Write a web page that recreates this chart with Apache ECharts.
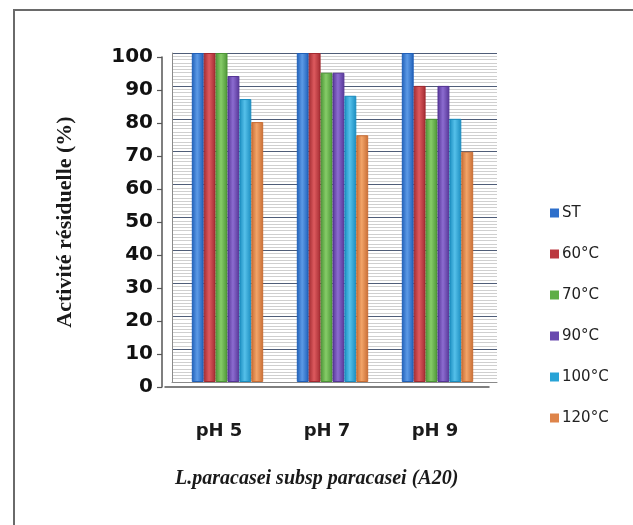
<!DOCTYPE html>
<html>
<head>
<meta charset="utf-8">
<script src="https://cdn.jsdelivr.net/npm/echarts@6/dist/echarts.min.js"></script>
<style>
  html, body { margin: 0; padding: 0; background: #ffffff; }
  #chart { width: 633px; height: 525px; }
</style>
</head>
<body>
<div id="chart"></div>
<script>
// pH conditions on the category axis
const categories = ['pH 5', 'pH 7', 'pH 9'];

// Heat treatments (legend entries)
const seriesNames = ['ST', '60°C', '70°C', '90°C', '100°C', '120°C'];

// Residual activity (%) per treatment, one value per pH
const valuesST   = [100, 100, 100];
const values60   = [100, 100, 90];
const values70   = [100, 94, 80];
const values90   = [93, 94, 90];
const values100  = [86, 87, 80];
const values120  = [79, 75, 70];

// Y-axis tick range
const yMin = 0;
const yMax = 100;
const yStep = 10;

const seriesValues = [valuesST, values60, values70, values90, values100, values120];

// Bar colours: [dark edge, light centre, legend swatch]
const palette = [
  ['#1f5fb8', '#5c9ae6', '#2d6fcb'],
  ['#a12a31', '#dd5a5e', '#bb3940'],
  ['#4c9436', '#86cc68', '#5eae46'],
  ['#553596', '#8c6cd0', '#6848ae'],
  ['#1a8cbf', '#55c0ea', '#28a3d6'],
  ['#c86d34', '#f2a468', '#de844a']
];

function cylinder(c) {
  return {
    type: 'linear', x: 0, y: 0, x2: 1, y2: 0,
    colorStops: [
      { offset: 0, color: c[0] },
      { offset: 0.45, color: c[1] },
      { offset: 1, color: c[0] }
    ]
  };
}

const chart = echarts.init(document.getElementById('chart'), null, { renderer: 'canvas' });

const series = seriesNames.map((name, i) => ({
  name: name,
  type: 'bar',
  xAxisIndex: 0,
  yAxisIndex: 0,
  barGap: '0%',
  barCategoryGap: '32%',
  itemStyle: {
    color: cylinder(palette[i]),
    borderColor: palette[i][0],
    borderWidth: 1
  },
  emphasis: { disabled: true },
  data: seriesValues[i]
}));

// flat swatches for the legend
const legendData = seriesNames.map((name, i) => ({
  name: name,
  itemStyle: { color: palette[i][2], borderWidth: 0 }
}));

const option = {
  backgroundColor: '#ffffff',
  animation: false,
  color: palette.map(c => c[2]),
  grid: [
    // bars
    { left: 175, width: 315, top: 53, bottom: 143 },
    // front axes (labels)
    { left: 165, width: 324, top: 57, bottom: 138 },
    // back wall
    { left: 172, width: 325, top: 53, bottom: 143 }
  ],
  xAxis: [
    {
      gridIndex: 0, type: 'category', data: categories,
      axisLine: { show: false }, axisTick: { show: false }, axisLabel: { show: false }
    },
    {
      gridIndex: 1, type: 'category', data: categories,
      axisLine: { show: true, lineStyle: { color: '#555', width: 1.5 } },
      axisTick: { show: false },
      axisLabel: {
        margin: 35,
        color: '#1a1a1a',
        fontFamily: 'DejaVu Sans',
        fontWeight: 'bold',
        fontSize: 18
      }
    },
    {
      gridIndex: 2, type: 'category', data: categories,
      axisLine: { show: true, lineStyle: { color: '#8a8a8a', width: 1 } },
      axisTick: { show: false }, axisLabel: { show: false }
    }
  ],
  yAxis: [
    {
      gridIndex: 0, type: 'value', min: yMin, max: yMax, interval: yStep,
      axisLine: { show: false }, axisTick: { show: false }, axisLabel: { show: false },
      splitLine: { show: false }
    },
    {
      gridIndex: 1, type: 'value', min: yMin, max: yMax, interval: yStep,
      offset: 3,
      axisLine: { show: true, lineStyle: { color: '#555', width: 1.5 } },
      axisTick: { show: true, length: 5, lineStyle: { color: '#555', width: 1.2 } },
      axisLabel: {
        margin: 9,
        color: '#111',
        fontFamily: 'DejaVu Sans',
        fontWeight: 'bold',
        fontSize: 20
      },
      splitLine: { show: false },
      name: 'Activité résiduelle (%)',
      nameLocation: 'middle',
      nameGap: 86,
      nameRotate: 90,
      nameTextStyle: {
        color: '#1a1a1a',
        fontFamily: 'Liberation Serif',
        fontWeight: 'bold',
        fontSize: 22
      }
    },
    {
      gridIndex: 2, type: 'value', min: yMin, max: yMax, interval: yStep,
      axisLine: { show: true, lineStyle: { color: '#8a8a8a', width: 1 } },
      axisTick: { show: false }, axisLabel: { show: false },
      splitLine: { show: true, lineStyle: { color: '#4f5d78', width: 1.2 } },
      minorTick: { show: false, splitNumber: 10 },
      minorSplitLine: { show: true, lineStyle: { color: '#cfcfcf', width: 1 } }
    }
  ],
  legend: {
    orient: 'vertical',
    left: 545,
    top: 199,
    itemWidth: 9,
    itemHeight: 9,
    itemGap: 23,
    icon: 'rect',
    textStyle: {
      color: '#222',
      fontFamily: 'DejaVu Sans',
      fontSize: 15,
      lineHeight: 18,
      padding: [0, 0, 0, -2]
    },
    data: legendData
  },
  graphic: [
    {
      type: 'polyline',
      shape: { points: [[14, 525], [14, 10], [633, 10]] },
      style: { stroke: '#6a6a6a', lineWidth: 2, fill: null },
      silent: true
    },
    {
      type: 'text',
      left: 175,
      top: 469,
      style: {
        text: 'L.paracasei subsp paracasei (A20)',
        fill: '#1a1a1a',
        font: 'italic bold 20px "Liberation Serif"'
      },
      silent: true
    }
  ],
  series: series
};

chart.setOption(option);
</script>
</body>
</html>
